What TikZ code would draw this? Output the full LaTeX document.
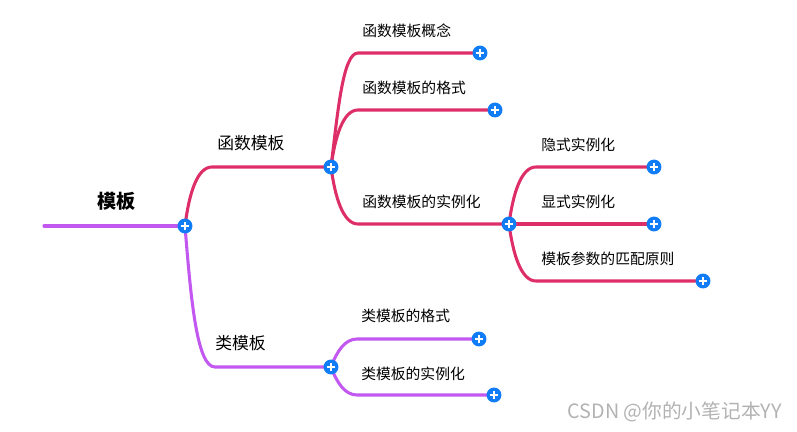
\documentclass[tikz,border=0pt]{standalone}
\usepackage{fontspec}
\newfontfamily\cjk{Noto Sans CJK SC}
\usetikzlibrary{calc,backgrounds}

\definecolor{funcred}{RGB}{222,46,104}
\definecolor{classpurple}{RGB}{194,88,240}
\definecolor{plusblue}{RGB}{16,124,246}
\definecolor{markgray}{RGB}{178,178,178}

\tikzset{
  plusbtn/.style={circle, fill=plusblue, minimum size=11.2pt, inner sep=0pt,
    path picture={
      \draw[white, line width=1.7pt]
        ([xshift=-3.3pt]path picture bounding box.center) -- ([xshift=3.3pt]path picture bounding box.center)
        ([yshift=-3.3pt]path picture bounding box.center) -- ([yshift=3.3pt]path picture bounding box.center);
    }},
  leaftext/.style={anchor=west, inner sep=0pt, font=\cjk\fontsize{11.1pt}{13pt}\selectfont},
  midtext/.style={anchor=west, inner sep=0pt, font=\cjk\fontsize{12.6pt}{15pt}\selectfont},
  funcedge/.style={draw=funcred, line width=2.3pt, line cap=round},
  classedge/.style={draw=classpurple, line width=2.3pt, line cap=round}
}

\begin{document}
\begin{tikzpicture}[x=0.75pt, y=-0.75pt]

    \useasboundingbox (0,0) rectangle (797,432);

    % Root
    \coordinate (rootstart) at (44,226);
    \node[plusbtn] (rootplus) at (185,226) {};
    \node[anchor=west, inner sep=0pt, font=\cjk\bfseries\fontsize{14.3pt}{17pt}\selectfont]
        (roottext) at (97,201) {模板};

    % First level
    \node[plusbtn] (fnplus) at (331,167) {};
    \node[midtext] (fntext) at (217,143) {函数模板};
    \node[plusbtn] (clsplus) at (331,367) {};
    \node[midtext] (clstext) at (215,343) {类模板};

    % Function template children
    \node[plusbtn] (conceptplus) at (480,53) {};
    \node[leaftext] (concepttext) at (362,31) {函数模板概念};
    \node[plusbtn] (formatplus) at (495,110) {};
    \node[leaftext] (formattext) at (362,88) {函数模板的格式};
    \node[plusbtn] (instplus) at (509,224) {};
    \node[leaftext] (insttext) at (362,202) {函数模板的实例化};

    % Instantiation children
    \node[plusbtn] (implplus) at (654,167) {};
    \node[leaftext] (impltext) at (541,145) {隐式实例化};
    \node[plusbtn] (explplus) at (654,224) {};
    \node[leaftext] (expltext) at (541,202) {显式实例化};
    \node[plusbtn] (matchplus) at (703,281) {};
    \node[leaftext] (matchtext) at (541,259) {模板参数的匹配原则};

    % Class template children
    \node[plusbtn] (cfmtplus) at (479,339) {};
    \node[leaftext] (cfmttext) at (361,316) {类模板的格式};
    \node[plusbtn] (cinstplus) at (494,395) {};
    \node[leaftext] (cinsttext) at (361,374) {类模板的实例化};

    % Watermark
    \node[anchor=east, inner sep=0pt, text=markgray, font=\cjk\fontsize{14.8pt}{17pt}\selectfont]
        (mark) at (782,412) {CSDN @你的小笔记本YY};

    % Branches
    \begin{scope}[on background layer]
        \draw[classedge] (rootstart) -- (rootplus.center);
        \draw[funcedge] (rootplus.center)
            .. controls +(4,-32) and +(-15,0) .. ($(rootplus.center |- fnplus.center)+(27,0)$)
            -- (fnplus.center);
        \draw[classedge] (rootplus.center)
            .. controls +(6,75) and +(-18,0) .. ($(rootplus.center |- clsplus.center)+(30,0)$)
            -- (clsplus.center);

        \draw[funcedge] (fnplus.center)
            .. controls +(7,-57) and +(-15,0) .. ($(fnplus.center |- conceptplus.center)+(27,0)$)
            -- (conceptplus.center);
        \draw[funcedge] (fnplus.center)
            .. controls +(4,-30) and +(-15,0) .. ($(fnplus.center |- formatplus.center)+(27,0)$)
            -- (formatplus.center);
        \draw[funcedge] (fnplus.center)
            .. controls +(4,30) and +(-15,0) .. ($(fnplus.center |- instplus.center)+(27,0)$)
            -- (instplus.center);

        \draw[funcedge] (instplus.center)
            .. controls +(4,-30) and +(-15,0) .. ($(instplus.center |- implplus.center)+(27,0)$)
            -- (implplus.center);
        \draw[funcedge] (instplus.center) -- (explplus.center);
        \draw[funcedge] (instplus.center)
            .. controls +(4,30) and +(-15,0) .. ($(instplus.center |- matchplus.center)+(27,0)$)
            -- (matchplus.center);

        \draw[classedge] (clsplus.center)
            .. controls +(6,-16) and +(-12,0) .. ($(clsplus.center |- cfmtplus.center)+(26,0)$)
            -- (cfmtplus.center);
        \draw[classedge] (clsplus.center)
            .. controls +(6,16) and +(-12,0) .. ($(clsplus.center |- cinstplus.center)+(26,0)$)
            -- (cinstplus.center);
    \end{scope}

\end{tikzpicture}
\end{document}
